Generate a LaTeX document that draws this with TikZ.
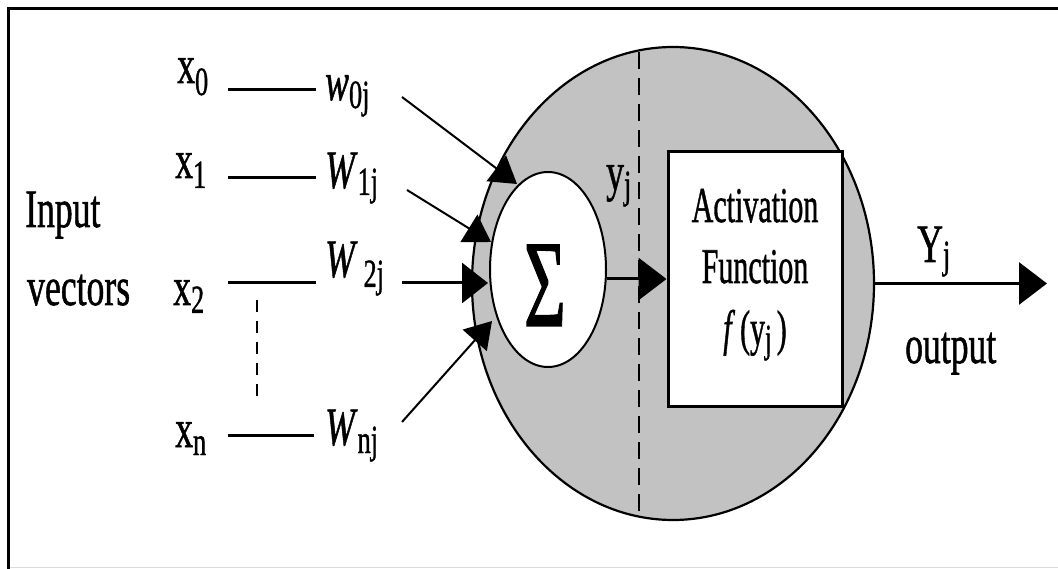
\documentclass[tikz,border=0pt]{standalone}
\usepackage{fontspec}
\setmainfont{Liberation Serif}[FakeBold=1.2]
\newfontfamily\lblfont[FakeBold=1.2]{Liberation Serif}
\usepackage{graphicx}
\usetikzlibrary{arrows.meta,shapes.geometric}
\definecolor{ringgray}{RGB}{194,194,194}
\newcommand{\hs}[1]{\scalebox{0.66}[1]{#1}}
\newcommand{\hsb}[1]{\scalebox{0.6}[1]{#1}}
\newcommand{\sbl}[2]{\raisebox{-#1pt}{\fontsize{40}{40}\selectfont #2}}
\begin{document}
\begin{tikzpicture}[x=1pt,y=-1pt,
  lbl/.style={inner sep=0pt, font=\lblfont\fontsize{54}{54}\selectfont},
  boxtxt/.style={inner sep=0pt, font=\lblfont\fontsize{50}{50}\selectfont},
  conn/.style={line width=3pt},
  warr/.style={line width=2pt, -{Triangle[length=26pt,width=32pt]}},
  harr/.style={line width=3pt, -{Triangle[length=26pt,width=40pt]}},
  bigarr/.style={line width=3pt, -{Triangle[length=28pt,width=42pt]}}
]
\useasboundingbox (0,0) rectangle (1058,569);
% frame
\draw[gray!30, line width=1pt] (8,567.5) -- (1058,567.5);
\draw[line width=3pt] (8,569) -- (8,9) -- (1058,9);

% neuron body
\node[ellipse, draw, line width=2.2pt, fill=ringgray, inner sep=0pt,
      minimum width=402pt, minimum height=473pt] (neuron) at (673,283.5) {};
\coordinate (dtop) at (639,52);
\coordinate (dbot) at (639,515);
\draw[line width=2.4pt, dash pattern=on 17pt off 9pt] (dtop) -- (dbot);

% activation box
\node[draw, line width=3pt, fill=white, inner sep=0pt,
      minimum width=174pt, minimum height=254pt] (act) at (755,279) {};
\node[boxtxt, anchor=base] (t1) at (755,222) {\hsb{Activation}};
\node[boxtxt, anchor=base] (t2) at (755,283) {\hsb{Function}};
\node[boxtxt, anchor=base] (t3) at (755,345) {\hsb{\textit{f}\,(y\sbl{7}{j}\,)}};

% summation
\node[ellipse, draw, line width=2pt, fill=white, inner sep=0pt,
      minimum width=116pt, minimum height=195pt] (sum) at (548,269.5) {};
\node[inner sep=0pt, anchor=base, font=\lblfont\fontsize{124}{124}\selectfont] (sigma) at (545,326) {\scalebox{0.58}[1]{Σ}};

% input labels
\node[lbl, anchor=base west] (in1) at (25,227) {\hs{Input}};
\node[lbl, anchor=base west] (in2) at (27,305) {\hs{vectors}};

\node[lbl, anchor=base west] (x0) at (177,83) {\hs{x\sbl{12}{0}}};
\node[lbl, anchor=base west] (x1) at (175,178) {\hs{x\sbl{10}{1}}};
\node[lbl, anchor=base west] (x2) at (173,305) {\hs{x\sbl{8}{2}}};
\node[lbl, anchor=base west] (xn) at (175,447) {\hs{x\sbl{8}{n}}};

\node[lbl, anchor=base west] (w0) at (325,100) {\hs{\textit{w}\sbl{8}{0j}}};
\node[lbl, anchor=base west] (w1) at (325,188) {\hs{\textit{W}\sbl{7}{1j}}};
\node[lbl, anchor=base west] (w2) at (325,277) {\hs{\textit{W}\,\sbl{10}{2j}}};
\node[lbl, anchor=base west] (wn) at (325,445) {\hs{\textit{W}\sbl{8}{nj}}};

% x -- w lines
\coordinate (l0a) at (228,90);  \coordinate (l0b) at (316,90);
\coordinate (l1a) at (228,178); \coordinate (l1b) at (316,178);
\coordinate (l2a) at (228,283); \coordinate (l2b) at (316,283);
\coordinate (lna) at (228,435); \coordinate (lnb) at (314,435);
\draw[conn] (l0a) -- (l0b);
\draw[conn] (l1a) -- (l1b);
\draw[conn] (l2a) -- (l2b);
\draw[conn] (lna) -- (lnb);
\coordinate (dv1) at (257,300); \coordinate (dv2) at (257,400);
\draw[line width=2.2pt, dash pattern=on 12pt off 9pt] (dv1) -- (dv2);

% weight arrows
\coordinate (a0) at (402,97);  \coordinate (h0) at (517,184);
\coordinate (a1) at (407,190); \coordinate (h1) at (491,242);
\coordinate (a2) at (402,283); \coordinate (h2) at (488,283);
\coordinate (an) at (402,422); \coordinate (hn) at (492,321);
\draw[warr] (a0) -- (h0);
\draw[warr] (a1) -- (h1);
\draw[harr] (a2) -- (h2);
\draw[warr] (an) -- (hn);

% internal and output arrows
\draw[bigarr] (sum.east |- act.west) -- (act.west);
\node[lbl, anchor=base west] (yj) at (606,190) {\hs{y\sbl{8}{j}}};
\coordinate (outtip) at (1047,283.5);
\draw[bigarr] (neuron.east) -- (outtip);
\node[lbl, anchor=base west] (Yj) at (917,262) {\hs{Y\sbl{6}{j}}};
\node[lbl, anchor=base west] (out) at (905,363) {\hs{output}};
\end{tikzpicture}
\end{document}
